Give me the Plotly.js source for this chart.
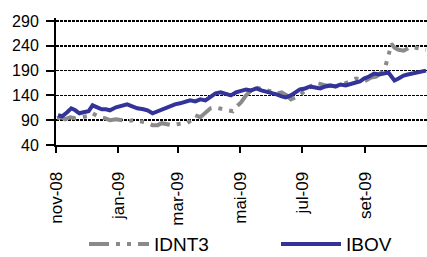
<!DOCTYPE html>
<html>
<head>
<meta charset="utf-8">
<script src="https://cdn.plot.ly/plotly-3.0.1.min.js"></script>
<style>html,body{margin:0;padding:0;background:#fff}#chart{width:427px;height:257px}</style>
</head>
<body>
<div id="chart"></div>
<script>
var ibovDates = ["2008-11-03","2008-11-07","2008-11-12","2008-11-16","2008-11-20","2008-11-24","2008-11-28","2008-12-03","2008-12-07","2008-12-11","2008-12-16","2008-12-20","2008-12-24","2008-12-30","2009-01-05","2009-01-10","2009-01-15","2009-01-20","2009-01-26","2009-01-30","2009-02-04","2009-02-09","2009-02-13","2009-02-18","2009-02-22","2009-02-26","2009-03-03","2009-03-08","2009-03-13","2009-03-18","2009-03-23","2009-03-28","2009-04-02","2009-04-07","2009-04-12","2009-04-17","2009-04-22","2009-04-27","2009-05-02","2009-05-07","2009-05-12","2009-05-17","2009-05-22","2009-05-27","2009-06-01","2009-06-06","2009-06-11","2009-06-15","2009-06-20","2009-06-24","2009-06-29","2009-07-04","2009-07-09","2009-07-14","2009-07-19","2009-07-24","2009-07-29","2009-08-03","2009-08-08","2009-08-13","2009-08-18","2009-08-23","2009-08-27","2009-08-31","2009-09-05","2009-09-10","2009-09-15","2009-09-20","2009-09-24","2009-09-27","2009-09-30","2009-10-04","2009-10-09","2009-10-13","2009-10-17","2009-10-22","2009-10-27","2009-10-31"];
var ibovValues = [100,98,106,114,110,104,106,108,120,116,112,112,110,116,120,122,118,114,112,110,104,108,112,114,118,122,124,126,130,128,132,130,136,144,146,142,140,146,148,152,150,154,150,148,146,142,138,136,140,146,152,154,158,156,154,158,160,158,162,160,162,166,168,174,178,184,182,184,186,178,170,174,180,182,184,186,188,190];
var idntDates = ["2008-11-02","2008-11-06","2008-11-10","2008-11-15","2008-11-20","2008-11-26","2008-12-02","2008-12-07","2008-12-11","2008-12-14","2008-12-19","2008-12-24","2008-12-30","2009-01-05","2009-01-10","2009-01-16","2009-01-22","2009-01-28","2009-02-04","2009-02-09","2009-02-13","2009-02-18","2009-02-23","2009-02-28","2009-03-04","2009-03-10","2009-03-14","2009-03-18","2009-03-23","2009-03-28","2009-04-02","2009-04-06","2009-04-10","2009-04-14","2009-04-19","2009-04-24","2009-04-28","2009-05-02","2009-05-07","2009-05-12","2009-05-17","2009-05-22","2009-05-27","2009-06-01","2009-06-06","2009-06-11","2009-06-16","2009-06-20","2009-06-25","2009-06-29","2009-07-04","2009-07-09","2009-07-14","2009-07-19","2009-07-24","2009-07-29","2009-08-03","2009-08-08","2009-08-13","2009-08-18","2009-08-23","2009-08-28","2009-09-02","2009-09-07","2009-09-12","2009-09-17","2009-09-21","2009-09-24","2009-09-27","2009-09-30","2009-10-04","2009-10-09","2009-10-13","2009-10-16","2009-10-21","2009-10-26","2009-10-31"];
var idntValues = [94,96,92,96,94,96,98,104,100,96,94,90,92,90,88,90,88,86,80,80,84,82,80,82,82,84,90,100,96,104,114,116,114,112,110,108,118,126,140,150,156,154,150,148,144,146,140,132,136,140,150,156,166,162,160,160,158,160,164,170,174,172,170,176,178,186,198,220,244,236,232,230,234,238,236,234,232];
var yTicks = [40,90,140,190,240,290];
var xTickVals = ["2008-11-01","2009-01-01","2009-03-01","2009-05-01","2009-07-01","2009-09-01"];
var xTickText = ["nov-08","jan-09","mar-09","mai-09","jul-09","set-09"];
var seriesNames = ["IDNT3","IBOV"];

var traces = [
  {x: idntDates, y: idntValues, name: seriesNames[0], type: "scatter", mode: "lines", legend: "legend",
   line: {color: "#8a8a8a", width: 4, dash: "20px,7px,4px,7px,4px,7px"}},
  {x: ibovDates, y: ibovValues, name: seriesNames[1], type: "scatter", mode: "lines", legend: "legend2",
   line: {color: "#333399", width: 4}}
];
var legendBase = {orientation: "h", yanchor: "middle", xanchor: "left", y: -0.78,
  font: {size: 19}, itemwidth: 60, bgcolor: "rgba(0,0,0,0)"};
var layout = {
  width: 427, height: 257,
  margin: {l: 56, r: 0, t: 18, b: 112, autoexpand: false},
  paper_bgcolor: "#fff", plot_bgcolor: "#fff",
  font: {family: "Liberation Sans, Arial, sans-serif", color: "#000"},
  showlegend: true,
  legend: Object.assign({}, legendBase, {x: 0.0755}),
  legend2: Object.assign({}, legendBase, {x: 0.593}),
  xaxis: {type: "date", range: ["2008-11-01","2009-11-01"], tickvals: xTickVals, ticktext: xTickText,
    tickangle: -90, tickfont: {size: 17}, ticks: "outside", ticklen: 6, tickwidth: 2, tickcolor: "#000",
    ticklabelstandoff: 12,
    showline: true, linecolor: "#000", linewidth: 2, showgrid: false, zeroline: false},
  yaxis: {range: [40, 296], tickvals: yTicks, tickfont: {size: 16}, ticks: "outside", ticklen: 8,
    ticklabelstandoff: 4,
    tickwidth: 2, tickcolor: "#000", showline: true, linecolor: "#000", linewidth: 2,
    showgrid: true, gridcolor: "#000", gridwidth: 1.5, griddash: "3px,1px", zeroline: false}
};
Plotly.newPlot("chart", traces, layout, {staticPlot: true});
</script>
</body>
</html>
